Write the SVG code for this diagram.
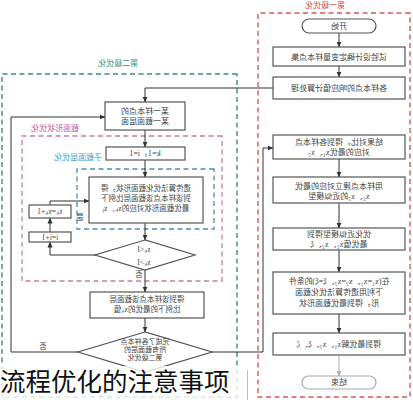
<svg xmlns="http://www.w3.org/2000/svg" width="413" height="400" viewBox="0 0 413 400">
<defs>
<marker id="ah" markerWidth="6" markerHeight="6" refX="5.5" refY="3" orient="auto" markerUnits="userSpaceOnUse"><path d="M0,0.5 L6,3 L0,5.5 z" fill="#333"/></marker>
<marker id="ahg" markerWidth="6" markerHeight="6" refX="5.5" refY="3" orient="auto" markerUnits="userSpaceOnUse"><path d="M0,0.5 L6,3 L0,5.5 z" fill="#aaa"/></marker>
</defs>
<style>
.box{fill:#fff;stroke:#555;stroke-width:1.2}
.term{fill:#fff;stroke:#555;stroke-width:1.2}
.dia{fill:#fff;stroke:#555;stroke-width:1.2}
.t{font-family:"Liberation Serif","Noto Sans CJK SC",serif;font-size:8px;fill:#444;text-anchor:middle}
.s{font-size:7.5px}
.xs{font-size:7px}
.c{fill:none;stroke:#333;stroke-width:1}
.pr{fill:none;stroke:#d65a55;stroke-width:1.4;stroke-dasharray:5,3.5}
.pt{fill:none;stroke:#3d8c7c;stroke-width:1.4;stroke-dasharray:5,3.5}
.pm{fill:none;stroke:#c97aa8;stroke-width:1.3;stroke-dasharray:5,3.5}
.pc{fill:none;stroke:#4f8eae;stroke-width:1.3;stroke-dasharray:5,3.5}
.lab{font-family:"Liberation Serif","Noto Sans CJK SC",serif;font-size:8px;text-anchor:middle}
</style>
<rect width="413" height="400" fill="#fff"/>
<g transform="matrix(-1 0 0 1 413 0)">
  <g id="panels">
    <rect class="pr" x="3" y="13" width="152" height="384"/>
    <text class="lab" x="88" y="8" fill="#c9504b">第一级优化</text>
    <rect class="pt" x="176" y="74" width="235" height="323"/>
    <text class="lab" x="295" y="66" fill="#3d8c7c">第二级优化</text>
    <rect class="pm" x="191" y="136" width="200" height="145"/>
    <text class="lab" x="358" y="131" fill="#c0609a">截面形状优化</text>
    <rect class="pc" x="199" y="169" width="137" height="60"/>
    <text class="lab" x="335" y="160" fill="#2fa6d6">子截面层优化</text>
  </g>
  <g id="connectors">
    <line class="c" x1="74" y1="33" x2="74" y2="47" marker-end="url(#ah)"/>
    <line class="c" x1="74" y1="66" x2="74" y2="77" marker-end="url(#ah)"/>
    <polyline class="c" points="140,88 268,88 268,102" marker-end="url(#ah)"/>
    <line class="c" x1="268" y1="130" x2="268" y2="147" marker-end="url(#ah)"/>
    <line class="c" x1="268" y1="160" x2="268" y2="177" marker-end="url(#ah)"/>
    <line class="c" x1="268" y1="223" x2="268" y2="240" marker-end="url(#ah)"/>
    <polyline class="c" points="317,255 363,255 363,242" marker-end="url(#ah)"/>
    <line class="c" x1="363" y1="232" x2="363" y2="218" marker-end="url(#ah)"/>
    <polyline class="c" points="363,205 363,201 324,201" marker-end="url(#ah)"/>
    <line class="c" x1="268" y1="270" x2="268" y2="292" marker-end="url(#ah)"/>
    <line class="c" x1="268" y1="318" x2="268" y2="332" marker-end="url(#ah)"/>
    <polyline class="c" points="335,352 402,352 402,117 308,117" marker-end="url(#ah)"/>
    <polyline class="c" points="201,352 150,352 150,148 140,148" marker-end="url(#ah)"/>
    <line class="c" x1="74" y1="159" x2="74" y2="177" marker-end="url(#ah)"/>
    <line class="c" x1="74" y1="203" x2="74" y2="228" marker-end="url(#ah)"/>
    <line class="c" x1="74" y1="250" x2="74" y2="272" marker-end="url(#ah)"/>
    <line class="c" x1="74" y1="314" x2="74" y2="333" marker-end="url(#ah)"/>
    <line x1="74" y1="355" x2="74" y2="376" stroke="#aaa" stroke-width="1" marker-end="url(#ahg)"/>
    <text class="t s" x="333" y="220">是</text>
    <text class="t s" x="274" y="277">否</text>
    <text class="t s" x="370" y="349">否</text>
  </g>
  <g id="start">
    <rect class="term" x="37" y="19" width="74" height="14" rx="7"/>
    <text class="t" x="74" y="29">开始</text>
  </g>
  <g id="doe">
    <rect class="box" x="8" y="47" width="132" height="19"/>
    <text class="t" x="74" y="60">试验设计确定变量样本点集</text>
  </g>
  <g id="calc">
    <rect class="box" x="8" y="77" width="132" height="22"/>
    <text class="t" x="74" y="91">各样本点的响应值计算处理</text>
  </g>
  <g id="compare">
    <rect class="box" x="8" y="135" width="132" height="24"/>
    <text class="t" x="74" y="145">结果对比，得到各样本点</text>
    <text class="t" x="74" y="155">对应的最优x₁、x₂</text>
  </g>
  <g id="model">
    <rect class="box" x="8" y="177" width="132" height="26"/>
    <text class="t" x="74" y="189">用样本点建立对应的最优</text>
    <text class="t" x="74" y="199">x₁、x₂的近似模型</text>
  </g>
  <g id="optimum">
    <rect class="box" x="8" y="228" width="132" height="22"/>
    <text class="t" x="74" y="237">优化近似模型得到</text>
    <text class="t" x="74" y="247">最优值x₁、x₂、ξ</text>
  </g>
  <g id="ga">
    <rect class="box" x="8" y="272" width="132" height="42"/>
    <text class="t" x="74" y="284">在(x₁=x₁、x₂=x₂、ξ=ξ)的条件</text>
    <text class="t" x="74" y="295">下利用遗传算法优化截面</text>
    <text class="t" x="74" y="306">形，得到最优截面形状</text>
  </g>
  <g id="result">
    <rect class="box" x="8" y="333" width="132" height="22"/>
    <text class="t" x="74" y="347">得到最优解x₁、x₂、ξ、ζ</text>
  </g>
  <g id="end">
    <rect x="37" y="376" width="74" height="13" rx="6.5" fill="#fff" stroke="#aaa" stroke-width="1.2"/>
    <text class="t" x="74" y="385" fill="#aaa">结束</text>
  </g>
  <g id="sample">
    <rect class="box" x="228" y="102" width="80" height="28"/>
    <text class="t" x="268" y="114">某一样本点的</text>
    <text class="t" x="268" y="124">某一截面层面</text>
  </g>
  <g id="init">
    <rect class="box" x="228" y="147" width="79" height="13"/>
    <text class="t" x="268" y="156">k=1，i=1</text>
  </g>
  <g id="layer">
    <rect class="box" x="210" y="177" width="114" height="46"/>
    <text class="t s" x="267" y="191">遗传算法优化截面形状，得</text>
    <text class="t s" x="267" y="201">到该样本点该截面层比例下</text>
    <text class="t s" x="267" y="211">最优截面形状对应的xₖ、xⱼ</text>
  </g>
  <g id="kinc">
    <rect class="box" x="342" y="205" width="42" height="13"/>
    <text class="t s" x="363" y="214">xₖ=xₖ+1</text>
  </g>
  <g id="iinc">
    <rect class="box" x="342" y="232" width="42" height="10"/>
    <text class="t s" x="363" y="240">i=i+1</text>
  </g>
  <g id="check1">
    <polygon class="dia" points="268,240 318,255 268,270 218,255"/>
    <text class="t s" x="269" y="252">xₖ&lt;I</text>
    <text class="t s" x="269" y="265">xₖ&gt;I</text>
  </g>
  <g id="layerbest">
    <rect class="box" x="209" y="292" width="114" height="26"/>
    <text class="t s" x="266" y="302">得到该样本点该截面层</text>
    <text class="t s" x="266" y="312">比例下的最优的xₖ值</text>
  </g>
  <g id="check2">
    <polygon class="dia" points="268,332 335,352 268,372 201,352"/>
    <text class="t xs" x="268" y="344">完成了各样本点</text>
    <text class="t xs" x="268" y="352">所有截面层的</text>
    <text class="t xs" x="268" y="360" fill="#888">第二级优化</text>
  </g>
</g>
<g id="caption">
  <rect x="0" y="366" width="247" height="34" fill="#fff" fill-opacity="0.8"/>
  <line x1="247.5" y1="370" x2="247.5" y2="400" stroke="#bbb" stroke-width="1"/>
  <text x="0" y="391" font-family="Noto Sans CJK SC, sans-serif" font-size="25.5px" fill="#111">流程优化的注意事项</text>
</g>
</svg>
